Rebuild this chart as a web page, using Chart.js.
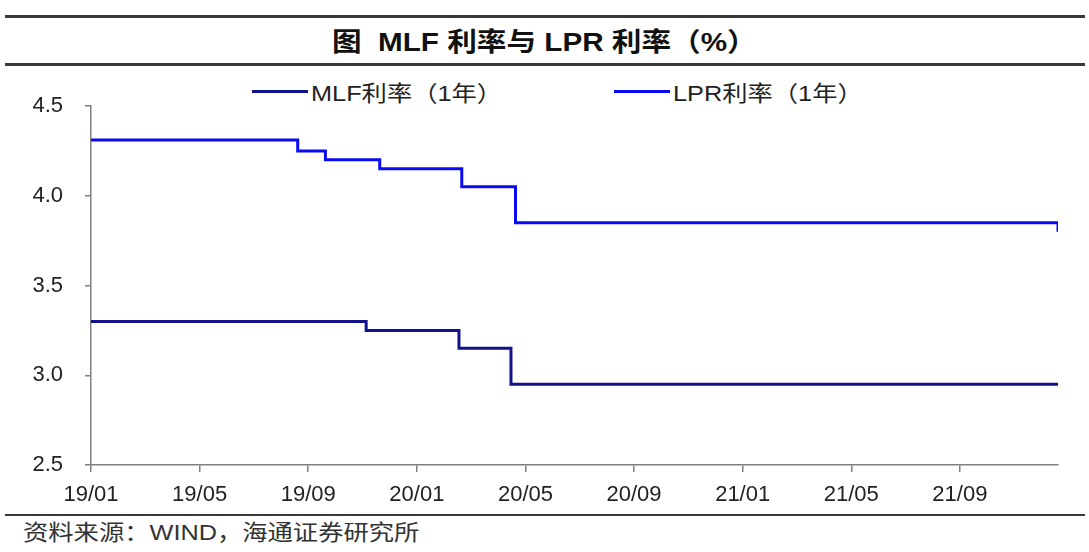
<!DOCTYPE html>
<html>
<head>
<meta charset="utf-8">
<script src="https://cdn.jsdelivr.net/npm/chart.js@4/dist/chart.umd.min.js"></script>
<style>
    body { margin: 0; background: #fff; }
    #wrap { position: relative; width: 1089px; height: 552px; overflow: hidden; font-family: "Liberation Sans", "Noto Sans CJK SC", sans-serif; color: #222; }
    .rule { position: absolute; left: 5px; width: 1080px; height: 3px; background: #3a3a3a; }
    #title { position: absolute; left: 0; width: 1089px; top: 28px; line-height: 28px; text-align: center; font-size: 26px; font-weight: bold; color: #111; }
    #title span { display: inline-block; transform: scaleX(1.14); white-space: pre; }
    .legend-item { position: absolute; top: 79px; height: 24px; display: flex; align-items: center; white-space: nowrap; }
    .legend-line { width: 56px; height: 3px; }
    .legend-text { margin-left: 3px; font-size: 22px; color: #222; transform: scaleX(1.15); transform-origin: left center; }
    #rateChart { position: absolute; left: 0; top: 70px; }
    #source { position: absolute; left: 23px; top: 520px; font-size: 22px; line-height: 26px; color: #333; transform: scaleX(1.15); transform-origin: left center; white-space: nowrap; }
</style>
</head>
<body>
<div id="wrap">
    <div class="rule" style="top:15px"></div>
    <div id="title"><span>图  MLF 利率与 LPR 利率（%）</span></div>
    <div class="rule" style="top:63px"></div>
    <div id="legend"></div>
    <canvas id="rateChart" width="1089" height="440"></canvas>
    <div class="rule" style="top:514px;height:2px"></div>
    <div id="source">资料来源：WIND，海通证券研究所</div>
</div>
<script>
const seriesNames = ['MLF利率（1年）', 'LPR利率（1年）'];

// dates where the rate changed (last entry = end of data)
const mlfDates = ['2019-01-01', '2019-11-05', '2020-02-17', '2020-04-15', '2021-12-20'];
const mlfValues = [3.30, 3.25, 3.15, 2.95, 2.95];

const lprDates = ['2019-01-01', '2019-08-20', '2019-09-20', '2019-11-20', '2020-02-20', '2020-04-20', '2021-12-20'];
const lprValues = [4.31, 4.25, 4.20, 4.15, 4.05, 3.85, 3.80];

const xTickLabels = ['19/01', '19/05', '19/09', '20/01', '20/05', '20/09', '21/01', '21/05', '21/09'];
const yTicks = [2.5, 3.0, 3.5, 4.0, 4.5];

const colors = ['#12128c', '#0a0af2'];
const legendLeft = [252, 614];

// months since 2019/01
function toMonth(s) {
    const [y, m, d] = s.split('-').map(Number);
    const dim = new Date(y, m, 0).getDate();
    return (y - 2019) * 12 + (m - 1) + (d - 1) / dim;
}

function labelToMonth(lbl) {
    const [yy, mm] = lbl.split('/');
    return toMonth('20' + yy + '-' + mm + '-01');
}

function toPoints(dates, values) {
    return dates.map((d, i) => ({ x: toMonth(d), y: values[i] }));
}

const xMax = toMonth(lprDates[lprDates.length - 1]);
const axisColor = '#808080';
const tickFont = { family: '"Liberation Sans", Arial, sans-serif', size: 22 };

const chart = new Chart(document.getElementById('rateChart').getContext('2d'), {
    type: 'line',
    data: {
        datasets: [
            { label: seriesNames[0], data: toPoints(mlfDates, mlfValues), borderColor: colors[0], backgroundColor: colors[0] },
            { label: seriesNames[1], data: toPoints(lprDates, lprValues), borderColor: colors[1], backgroundColor: colors[1] }
        ].map(ds => Object.assign(ds, {
            stepped: true,
            borderWidth: 3,
            pointRadius: 0,
            fill: false,
            borderJoinStyle: 'miter'
        }))
    },
    options: {
        responsive: false,
        animation: false,
        layout: { padding: { top: 36, right: 31, left: 0, bottom: 0 } },
        plugins: {
            legend: { display: false },
            tooltip: { enabled: false }
        },
        scales: {
            x: {
                type: 'linear',
                min: 0,
                max: xMax,
                afterFit: scale => { scale.height = 45; },
                afterBuildTicks: scale => {
                    scale.ticks = xTickLabels.map(l => ({ value: labelToMonth(l), label: l }));
                },
                ticks: {
                    padding: 10,
                    color: '#222',
                    font: tickFont,
                    maxRotation: 0,
                    autoSkip: false,
                    callback: (v, i) => xTickLabels[i]
                },
                grid: { drawOnChartArea: false, drawTicks: true, tickLength: 7, color: axisColor, lineWidth: 1.5 },
                border: { color: axisColor, width: 1.5 }
            },
            y: {
                min: yTicks[0],
                max: yTicks[yTicks.length - 1],
                afterFit: scale => { scale.width = 91; },
                afterBuildTicks: scale => {
                    scale.ticks = yTicks.map(v => ({ value: v }));
                },
                ticks: {
                    padding: 22,
                    color: '#222',
                    font: tickFont,
                    callback: v => Number(v).toFixed(1)
                },
                grid: { drawOnChartArea: false, drawTicks: true, tickLength: 6, color: axisColor, lineWidth: 1.5 },
                border: { color: axisColor, width: 1.5 }
            }
        }
    }
});

// legend built from the chart's datasets
const legendBox = document.getElementById('legend');
chart.data.datasets.forEach((ds, i) => {
    const item = document.createElement('div');
    item.className = 'legend-item';
    item.style.left = legendLeft[i] + 'px';
    const line = document.createElement('span');
    line.className = 'legend-line';
    line.style.background = ds.borderColor;
    const text = document.createElement('span');
    text.className = 'legend-text';
    text.textContent = ds.label;
    item.appendChild(line);
    item.appendChild(text);
    legendBox.appendChild(item);
});
</script>
</body>
</html>
